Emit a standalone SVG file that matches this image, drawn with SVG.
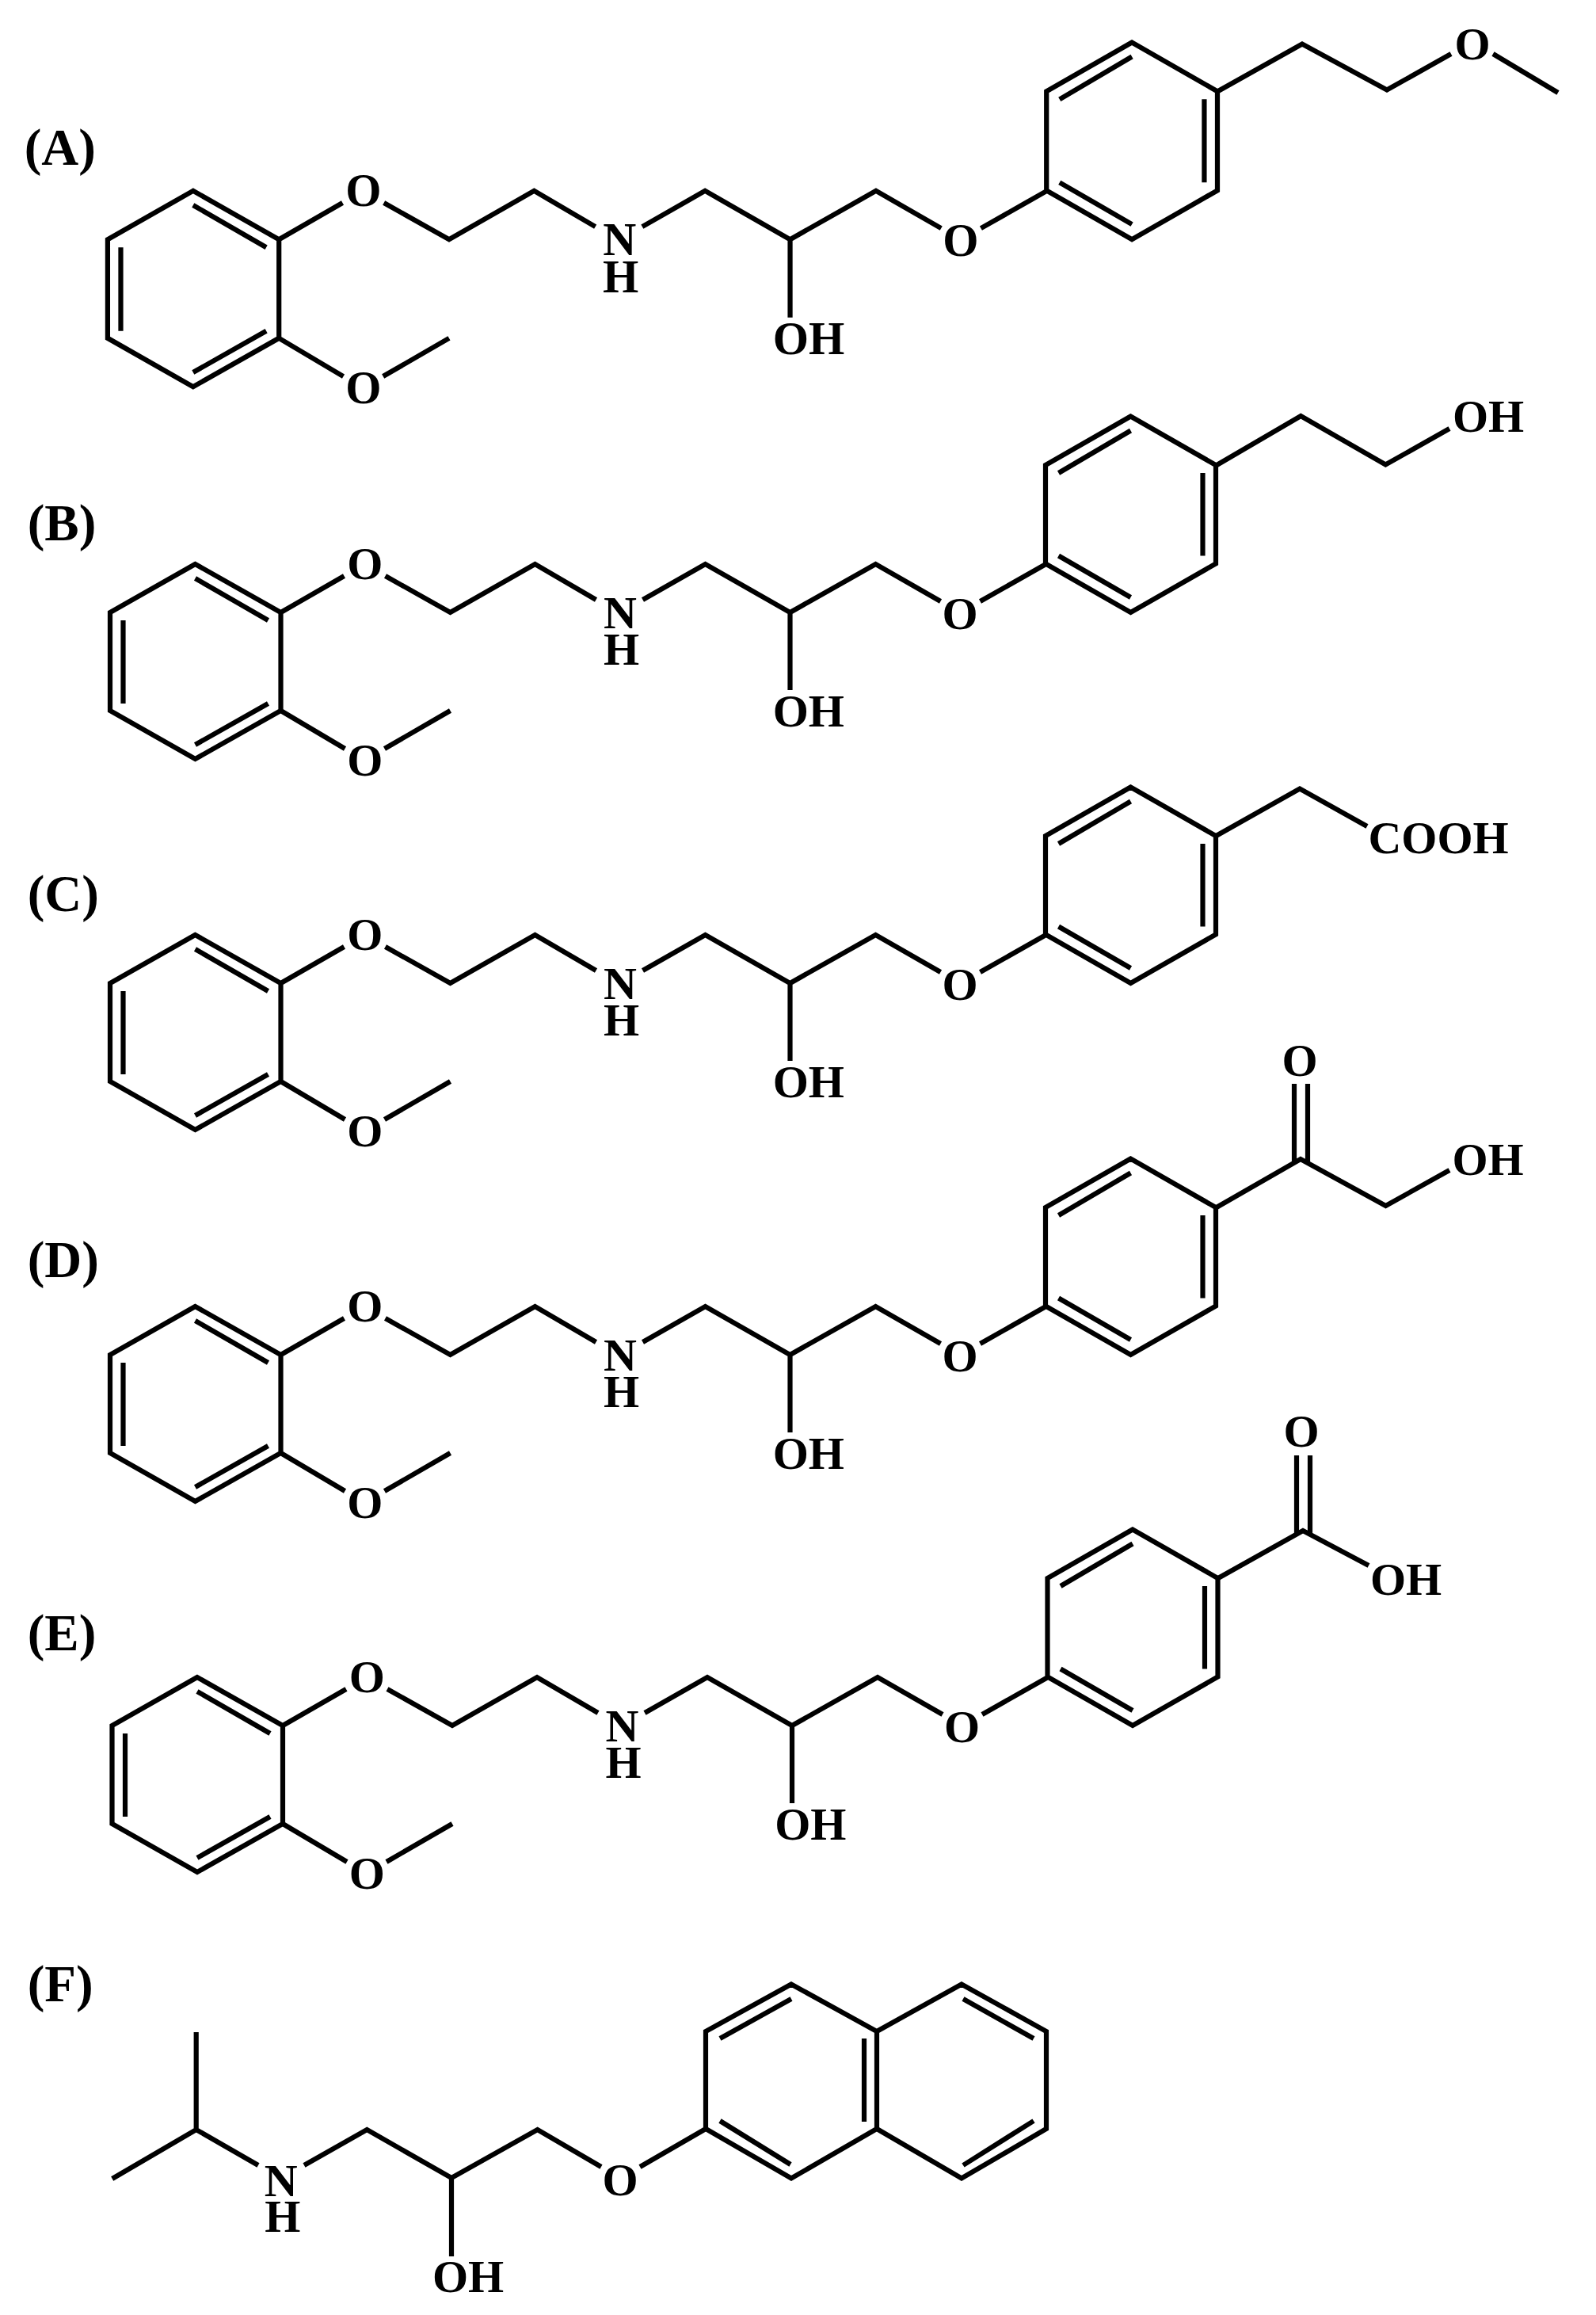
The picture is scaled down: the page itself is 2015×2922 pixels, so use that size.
<svg xmlns="http://www.w3.org/2000/svg" width="2015" height="2922" viewBox="0 0 2015 2922">
<style>
.b{fill:none;stroke:#000;stroke-width:6.200;stroke-linejoin:miter;stroke-miterlimit:10;stroke-linecap:butt}
text{font-family:"Liberation Serif","Times New Roman",serif;font-weight:700;fill:#000}
.a{font-size:58px;text-anchor:middle}
.l{font-size:65px;text-anchor:start}
</style>
<defs>
<path id="core" class="b" d="M249 240L141.500 301V425L249 486L357 425V301ZM249 258L341 311M158 311V416M249 468L341 416M357 301L437 255M489 255L571 301L678 240L755 285M814 285L893 240L1000 301V399M1000 301L1108 240L1190 287M1240 287L1323 240M357 425L438 473M488 473L571 425M1430 53.500L1322.500 115V239.500L1430 301L1537.500 239.500V115ZM1430 71.500L1339 125M1521 125V229.500M1339 229.500L1430 282"/>
</defs>
<rect width="2015" height="2922" fill="#fff"/>
<g id="connectors">
<g id="bonds-A"><use href="#core" transform="matrix(1.00364 0 0 1.005 -6.100 -0.300)"/><path class="b" d="M1537 115.500L1644 55.500L1751 113.500L1832 68M1885 68L1967 117"/></g>
<g id="bonds-B"><use href="#core" transform="translate(-2.500 472)"/><path class="b" d="M1534.500 588L1642.300 525L1749.300 586.500L1830 541"/></g>
<g id="bonds-C"><use href="#core" transform="translate(-2.500 940)"/><path class="b" d="M1534.500 1055.500L1641 995.500L1726 1043"/></g>
<g id="bonds-D"><use href="#core" transform="translate(-2.500 1409)"/><path class="b" d="M1535 1524.500L1642 1463L1749.500 1522L1830 1477M1634 1466V1368M1651 1466V1368"/></g>
<g id="bonds-E"><use href="#core" transform="translate(0 1877)"/><path class="b" d="M1537 1992.500L1645 1932L1728 1976M1637 1935V1837M1654 1935V1837"/></g>
<g id="bonds-F"><path class="b" d="M247.700 2565V2688M141.700 2750L247.700 2688L326 2733M384 2733L463.300 2688L570 2749L678.600 2688L759 2735M808 2735L891 2687M570 2749V2848M999 2504.500L891 2564V2687L999 2749.500L1107 2687V2564ZM1107 2564L1214 2504.500L1321 2564V2687L1214 2749.500L1107 2687M999 2523L909 2573M909 2677L998 2732M1091 2573V2678M1216 2523L1305 2573M1305 2677L1216 2733"/></g>
</g>
<g id="mol-A" transform="matrix(1.00364 0 0 1.005 -6.100 -0.300)">
<g id="A-O1"><text class="a" x="463.300" y="259">O</text></g>
<g id="A-O2"><text class="a" x="463.300" y="507">O</text></g>
<g id="A-NH"><text class="a"><tspan x="785.500" y="321">N</tspan><tspan x="787" y="367">H</tspan></text></g>
<g id="A-OH"><text class="a" x="1023.300" y="445">OH</text></g>
<g id="A-O3"><text class="a" x="1214.500" y="322">O</text></g>
</g>
<g id="A-O4"><text class="a" x="1859" y="74.500">O</text></g>
<g id="mol-B" transform="translate(-2.500 472)">
<g id="B-O1"><text class="a" x="463.300" y="259">O</text></g>
<g id="B-O2"><text class="a" x="463.300" y="507">O</text></g>
<g id="B-NH"><text class="a"><tspan x="785.500" y="321">N</tspan><tspan x="787" y="367">H</tspan></text></g>
<g id="B-OH"><text class="a" x="1023.300" y="445">OH</text></g>
<g id="B-O3"><text class="a" x="1214.500" y="322">O</text></g>
</g>
<g id="B-OH2"><text class="a" x="1879" y="545">OH</text></g>
<g id="mol-C" transform="translate(-2.500 940)">
<g id="C-O1"><text class="a" x="463.300" y="259">O</text></g>
<g id="C-O2"><text class="a" x="463.300" y="507">O</text></g>
<g id="C-NH"><text class="a"><tspan x="785.500" y="321">N</tspan><tspan x="787" y="367">H</tspan></text></g>
<g id="C-OH"><text class="a" x="1023.300" y="445">OH</text></g>
<g id="C-O3"><text class="a" x="1214.500" y="322">O</text></g>
</g>
<g id="C-COOH"><text class="a" x="1816" y="1077">COOH</text></g>
<g id="mol-D" transform="translate(-2.500 1409)">
<g id="D-O1"><text class="a" x="463.300" y="259">O</text></g>
<g id="D-O2"><text class="a" x="463.300" y="507">O</text></g>
<g id="D-NH"><text class="a"><tspan x="785.500" y="321">N</tspan><tspan x="787" y="367">H</tspan></text></g>
<g id="D-OH"><text class="a" x="1023.300" y="445">OH</text></g>
<g id="D-O3"><text class="a" x="1214.500" y="322">O</text></g>
</g>
<g id="D-O4"><text class="a" x="1641" y="1358">O</text></g>
<g id="D-OH2"><text class="a" x="1878.500" y="1483">OH</text></g>
<g id="mol-E" transform="translate(0 1877)">
<g id="E-O1"><text class="a" x="463.300" y="259">O</text></g>
<g id="E-O2"><text class="a" x="463.300" y="507">O</text></g>
<g id="E-NH"><text class="a"><tspan x="785.500" y="321">N</tspan><tspan x="787" y="367">H</tspan></text></g>
<g id="E-OH"><text class="a" x="1023.300" y="445">OH</text></g>
<g id="E-O3"><text class="a" x="1214.500" y="322">O</text></g>
</g>
<g id="E-O4"><text class="a" x="1643" y="1826">O</text></g>
<g id="E-OH2"><text class="a" x="1775" y="2012.500">OH</text></g>
<g id="mol-F">
<g id="F-NH"><text class="a"><tspan x="354.700" y="2771.500">N</tspan><tspan x="356.700" y="2817">H</tspan></text></g>
<g id="F-O"><text class="a" x="783" y="2771">O</text></g>
<g id="F-OH"><text class="a" x="591" y="2893">OH</text></g>
</g>
<g id="labels">
<g id="label-A"><text class="l" x="30.700" y="208.300">(A)</text></g>
<g id="label-B"><text class="l" x="34.700" y="681.700">(B)</text></g>
<g id="label-C"><text class="l" x="34.700" y="1150">(C)</text></g>
<g id="label-D"><text class="l" x="34.700" y="1611.700">(D)</text></g>
<g id="label-E"><text class="l" x="34.700" y="2083.300">(E)</text></g>
<g id="label-F"><text class="l" x="34.700" y="2525.700">(F)</text></g>
</g>
</svg>
